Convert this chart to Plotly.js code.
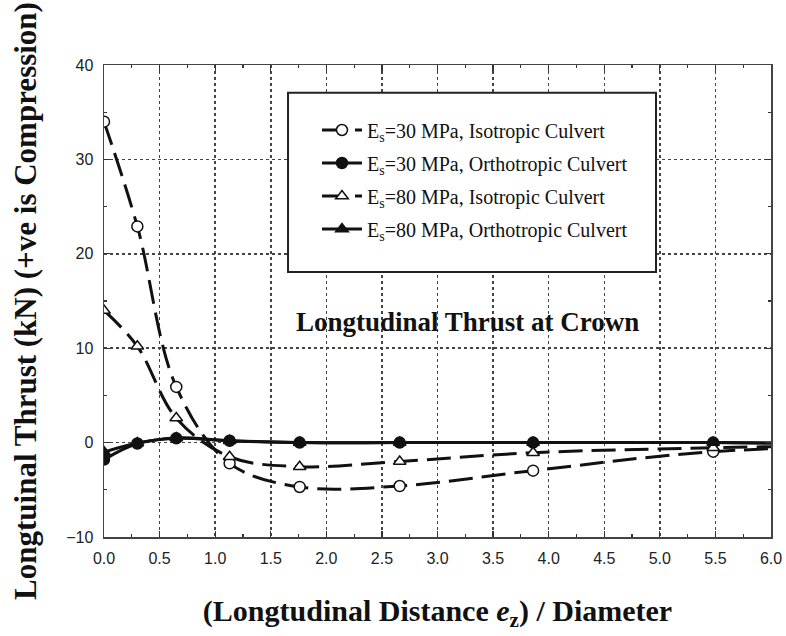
<!DOCTYPE html>
<html>
<head>
<meta charset="utf-8">
<script src="https://cdn.plot.ly/plotly-3.0.1.min.js"></script>
<style>
html,body{margin:0;padding:0;background:#fff;}
#chart{width:786px;height:636px;}
</style>
</head>
<body>
<div id="chart"></div>
<script>
// Normalised distance (e_z / Diameter); last point lies beyond the shown range
const xDist = [0, 0.3, 0.65, 1.13, 1.76, 2.66, 3.86, 5.48, 7.7];

const seriesNames = [
  "E<sub>s</sub>=30 MPa, Isotropic Culvert",
  "E<sub>s</sub>=30 MPa, Orthotropic Culvert",
  "E<sub>s</sub>=80 MPa, Isotropic Culvert",
  "E<sub>s</sub>=80 MPa, Orthotropic Culvert"
];

const es30Iso   = [34.0, 22.9, 5.9, -2.2, -4.7, -4.6, -2.97, -0.96, -0.2];
const es30Ortho = [-1.8, -0.1, 0.45, 0.2, 0.0, 0.0, 0.0, 0.0, -0.2];
const es80Iso   = [14.0, 10.2, 2.6, -1.5, -2.55, -2.0, -1.07, -0.55, -0.1];
const es80Ortho = [-1.0, -0.05, 0.5, 0.2, 0.0, 0.0, 0.0, 0.0, -0.2];

const xTickVals = [0, 0.5, 1, 1.5, 2, 2.5, 3, 3.5, 4, 4.5, 5, 5.5, 6];
const yTickVals = [-10, 0, 10, 20, 30, 40];

const ink = '#111';
const dashStyle = '24px,9px';

function tr(name, y, dash, symbol, fill, grp) {
  return {
    x: xDist, y: y, name: name, type: 'scatter', mode: 'lines+markers',
    legendgroup: grp,
    line: {color: ink, width: 3, dash: dash, shape: 'spline', smoothing: 1},
    marker: {symbol: symbol, size: 11, color: fill, line: {color: ink, width: 1.5}},
    cliponaxis: true
  };
}

const data = [
  tr(seriesNames[0], es30Iso, dashStyle, 'circle', '#fff', 'a'),
  tr(seriesNames[1], es30Ortho, 'solid', 'circle', ink, 'b'),
  tr(seriesNames[2], es80Iso, dashStyle, 'triangle-up', '#fff', 'c'),
  tr(seriesNames[3], es80Ortho, 'solid', 'triangle-up', ink, 'd')
];

const serif = 'Liberation Serif, Times New Roman, serif';
const sans = 'Liberation Sans, Arial, sans-serif';

const layout = {
  width: 786, height: 636,
  margin: {l: 104, r: 15, t: 65, b: 99},
  paper_bgcolor: '#fff', plot_bgcolor: '#fff',
  showlegend: true,
  legend: {
    x: 0.3193, xanchor: 'left', y: 0.9036, yanchor: 'top',
    bgcolor: 'rgba(0,0,0,0)', borderwidth: 0,
    font: {family: serif, size: 20, color: ink},
    itemwidth: 40, tracegroupgap: 4, traceorder: 'grouped'
  },
  xaxis: {
    range: [0, 6], tickvals: xTickVals, tickformat: '.1f',
    ticks: 'inside', ticklen: 6, tickwidth: 1.2, tickcolor: '#333',
    showline: true, linecolor: '#444', linewidth: 1.5, mirror: 'ticks',
    showgrid: true, gridcolor: '#444', gridwidth: 1.5, griddash: 'dot',
    zeroline: false,
    minor: {dtick: 0.25, ticks: 'inside', ticklen: 3, tickcolor: '#333', showgrid: false},
    tickfont: {family: sans, size: 16, color: '#222'},
    ticklabelstandoff: 6,
    title: {text: '(Longtudinal Distance <i>e</i><sub>z</sub>) / Diameter',
            font: {family: serif, size: 30, color: ink, weight: 'bold'}, standoff: 34}
  },
  yaxis: {
    range: [-10, 40], tickvals: yTickVals,
    ticks: 'inside', ticklen: 6, tickwidth: 1.2, tickcolor: '#333',
    showline: true, linecolor: '#444', linewidth: 1.5, mirror: 'ticks',
    showgrid: true, gridcolor: '#444', gridwidth: 1.5, griddash: 'dot',
    zeroline: false,
    minor: {dtick: 5, ticks: 'inside', ticklen: 3, tickcolor: '#333', showgrid: false},
    tickfont: {family: sans, size: 16, color: '#222'},
    ticklabelstandoff: 6,
    title: {text: 'Longtuinal Thrust (kN) (+ve is Compression)',
            font: {family: serif, size: 31, color: ink, weight: 'bold'}, standoff: 20}
  },
  shapes: [{
    type: 'rect', xref: 'paper', yref: 'paper',
    x0: 0.2759, x1: 0.8276, y0: 0.5614, y1: 0.9413,
    line: {color: '#222', width: 2}, fillcolor: '#fff', layer: 'above'
  }],
  annotations: [{
    text: 'Longtudinal Thrust at Crown', xref: 'x', yref: 'y',
    x: 3.27, y: 12.8, showarrow: false, xanchor: 'center', yanchor: 'middle',
    font: {family: serif, size: 27, color: ink, weight: 'bold'}
  }]
};

Plotly.newPlot('chart', data, layout, {displayModeBar: false, staticPlot: true});
</script>
</body>
</html>
